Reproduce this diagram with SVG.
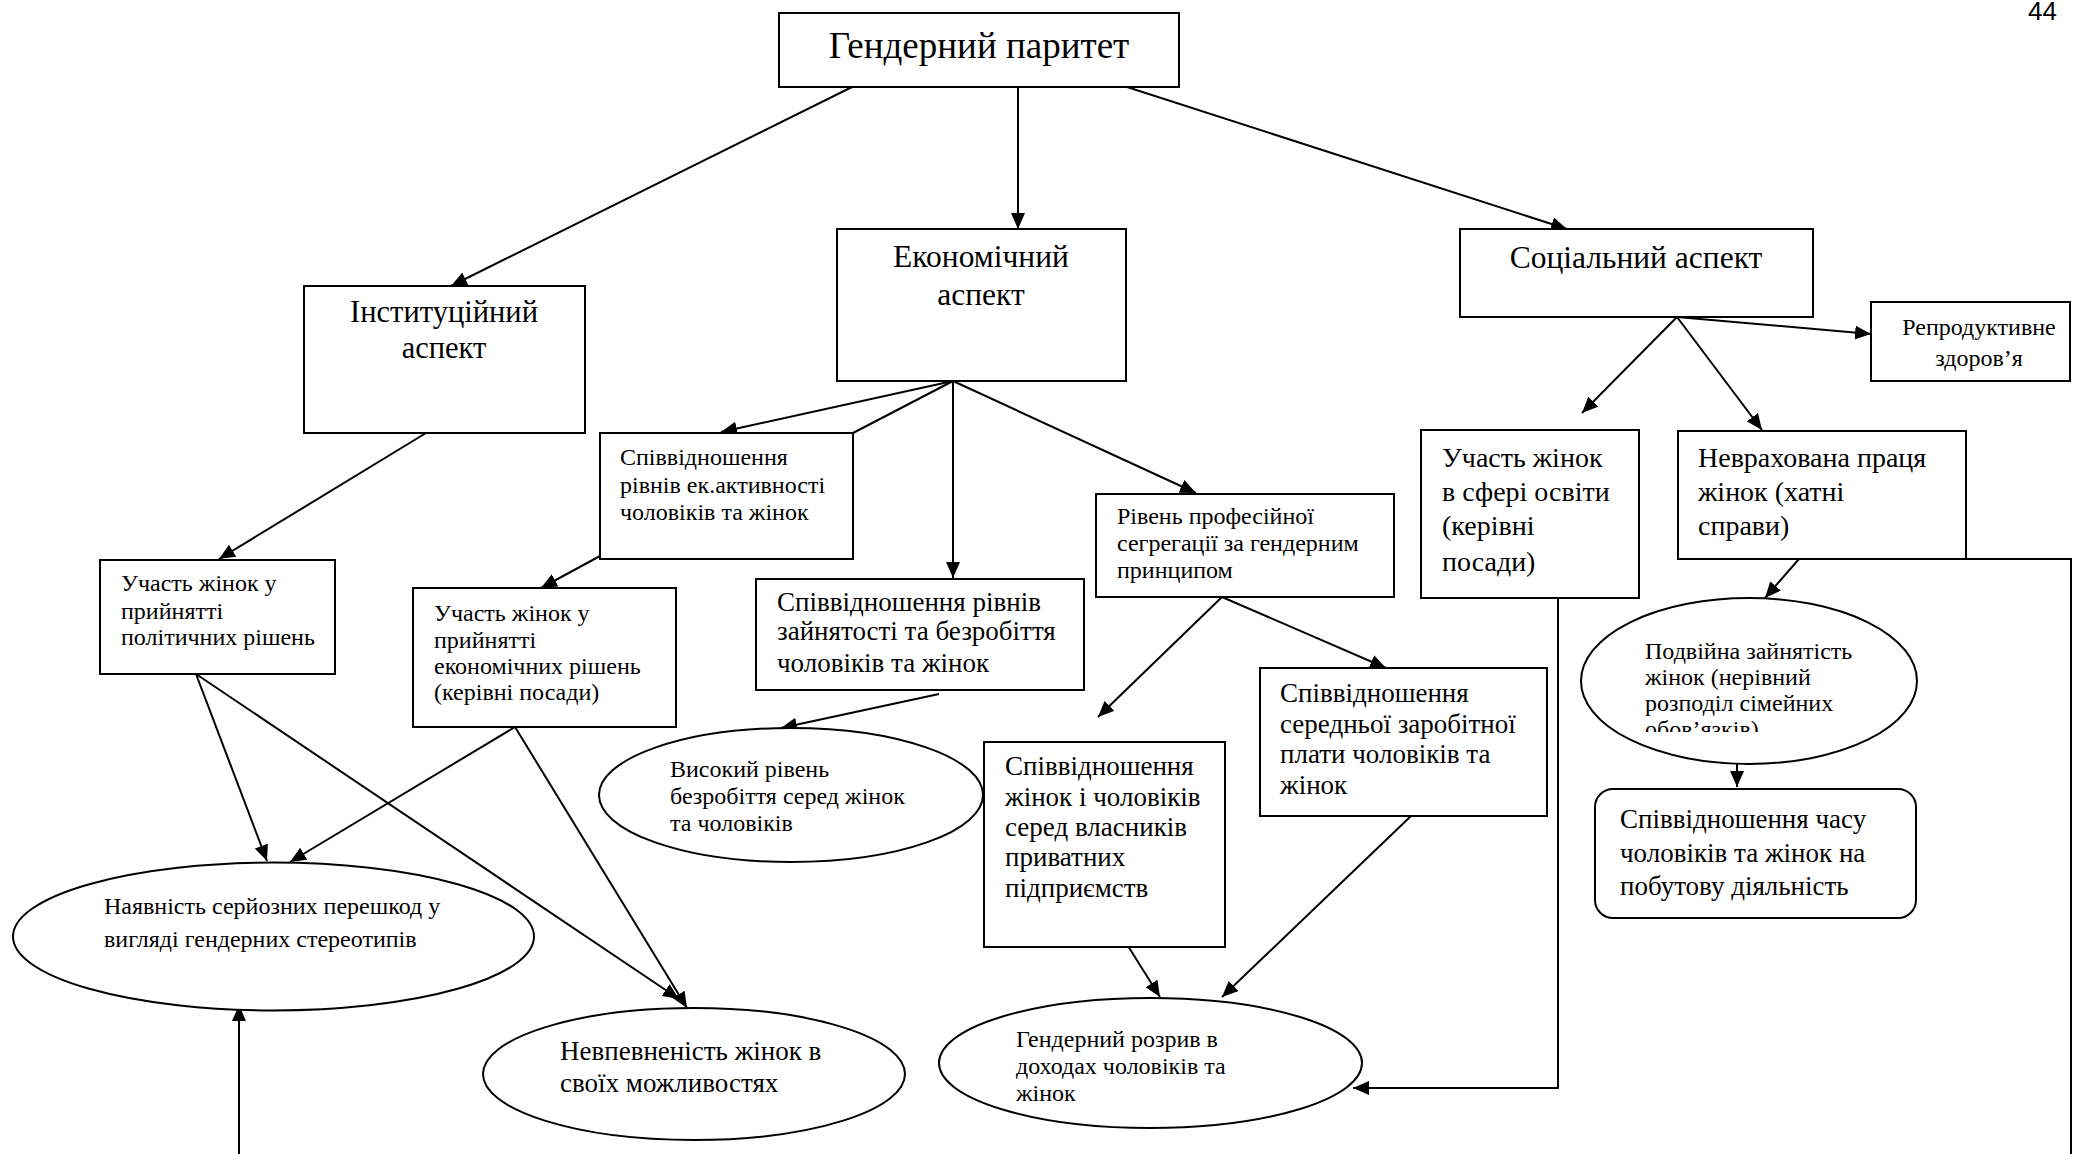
<svg xmlns="http://www.w3.org/2000/svg" width="2073" height="1154" viewBox="0 0 2073 1154">
<defs>
<marker id="arr" markerUnits="userSpaceOnUse" markerWidth="18" markerHeight="14" refX="16" refY="7" orient="auto">
<path d="M0,0 L16,7 L0,14 z" fill="#000"/>
</marker>
<clipPath id="clipDouble"><rect x="1570" y="590" width="360" height="142"/></clipPath>
</defs>
<style>
.b{fill:#fff;stroke:#000;stroke-width:2}
.t{font-family:"Liberation Serif","Times New Roman",serif;fill:#000}
.s24{font-size:24px}
.s27{font-size:27px}
.s28{font-size:28px}
.s31{font-size:31.5px}
.c{text-anchor:middle}
.ln{fill:none;stroke:#000;stroke-width:2}
.a{marker-end:url(#arr)}
</style>
<rect width="2073" height="1154" fill="#fff"/>
<text x="2028" y="20" style="font-family:'Liberation Sans',Arial,sans-serif;font-size:26px">44</text>

<g id="connectors">
<line class="ln a" x1="852" y1="87" x2="451" y2="286"/>
<line class="ln a" x1="1018" y1="87" x2="1018" y2="229"/>
<line class="ln a" x1="1127" y1="87" x2="1567" y2="229"/>
<line class="ln a" x1="426" y1="433" x2="219" y2="559"/>
<line class="ln a" x1="953" y1="381" x2="721" y2="432"/>
<line class="ln" x1="953" y1="381" x2="853" y2="433"/>
<line class="ln a" x1="953" y1="381" x2="953" y2="578"/>
<line class="ln a" x1="953" y1="381" x2="1196" y2="493"/>
<line class="ln a" x1="600" y1="556" x2="541" y2="588"/>
<line class="ln a" x1="939" y1="694" x2="781" y2="728"/>
<line class="ln a" x1="196" y1="674" x2="267" y2="861"/>
<line class="ln a" x1="196" y1="674" x2="679" y2="999"/>
<line class="ln a" x1="515" y1="727" x2="290" y2="862"/>
<line class="ln a" x1="515" y1="727" x2="687" y2="1008"/>
<line class="ln a" x1="239" y1="1154" x2="239" y2="1005"/>
<line class="ln a" x1="1222" y1="597" x2="1098" y2="717"/>
<line class="ln a" x1="1222" y1="597" x2="1386" y2="668"/>
<line class="ln a" x1="1128" y1="946" x2="1160" y2="997"/>
<line class="ln a" x1="1411" y1="816" x2="1222" y2="997"/>
<polyline class="ln a" points="1558,598 1558,1088 1353,1088"/>
<line class="ln a" x1="1677" y1="317" x2="1871" y2="334"/>
<line class="ln a" x1="1677" y1="317" x2="1582" y2="413"/>
<line class="ln a" x1="1677" y1="317" x2="1762" y2="430"/>
<line class="ln a" x1="1799" y1="559" x2="1765" y2="598"/>
<line class="ln a" x1="1737" y1="763" x2="1737" y2="787"/>
<polyline class="ln" points="1966,559 2071,559 2071,1154"/>
</g>

<g id="parity">
<rect class="b" x="779" y="13" width="400" height="74"/>
<text class="t c" x="979" y="58" style="font-size:37px">Гендерний паритет</text>
</g>
<g id="institutional">
<rect class="b" x="304" y="286" width="281" height="147"/>
<text class="t s31 c" x="444" y="322" style="font-size:30.5px">Інституційний</text>
<text class="t s31 c" x="444" y="358" style="font-size:30.5px">аспект</text>
</g>
<g id="economic">
<rect class="b" x="837" y="229" width="289" height="152"/>
<text class="t s31 c" x="981" y="267">Економічний</text>
<text class="t s31 c" x="981" y="305">аспект</text>
</g>
<g id="social">
<rect class="b" x="1460" y="229" width="353" height="88"/>
<text class="t s31 c" x="1636" y="268">Соціальний аспект</text>
</g>
<g id="econ-activity">
<rect class="b" x="600" y="433" width="253" height="126"/>
<text class="t s24" x="620" y="465">Співвідношення</text>
<text class="t s24" x="620" y="493">рівнів ек.активності</text>
<text class="t s24" x="620" y="520">чоловіків та жінок</text>
</g>
<g id="political">
<rect class="b" x="100" y="560" width="235" height="114"/>
<text class="t s24" x="121" y="591">Участь жінок у</text>
<text class="t s24" x="121" y="619">прийнятті</text>
<text class="t s24" x="121" y="645">політичних рішень</text>
</g>
<g id="econ-decisions">
<rect class="b" x="413" y="588" width="263" height="139"/>
<text class="t s24" x="434" y="621">Участь жінок у</text>
<text class="t s24" x="434" y="648">прийнятті</text>
<text class="t s24" x="434" y="674">економічних рішень</text>
<text class="t s24" x="434" y="700">(керівні посади)</text>
</g>
<g id="employment">
<rect class="b" x="756" y="579" width="328" height="111"/>
<text class="t s27" x="777" y="611">Співвідношення рівнів</text>
<text class="t s27" x="777" y="640">зайнятості та безробіття</text>
<text class="t s27" x="777" y="672">чоловіків та жінок</text>
</g>
<g id="segregation">
<rect class="b" x="1096" y="494" width="298" height="103"/>
<text class="t s24" x="1117" y="524">Рівень професійної</text>
<text class="t s24" x="1117" y="551">сегрегації за гендерним</text>
<text class="t s24" x="1117" y="578">принципом</text>
</g>
<g id="owners">
<rect class="b" x="984" y="742" width="241" height="205"/>
<text class="t s27" x="1005" y="775">Співвідношення</text>
<text class="t s27" x="1005" y="806">жінок і чоловіків</text>
<text class="t s27" x="1005" y="836">серед власників</text>
<text class="t s27" x="1005" y="866">приватних</text>
<text class="t s27" x="1005" y="897">підприємств</text>
</g>
<g id="wage">
<rect class="b" x="1260" y="668" width="287" height="148"/>
<text class="t s27" x="1280" y="702">Співвідношення</text>
<text class="t s27" x="1280" y="733">середньої заробітної</text>
<text class="t s27" x="1280" y="763">плати чоловіків та</text>
<text class="t s27" x="1280" y="794">жінок</text>
</g>
<g id="education">
<rect class="b" x="1421" y="430" width="218" height="168"/>
<text class="t s28" x="1442" y="467">Участь жінок</text>
<text class="t s28" x="1442" y="501">в сфері освіти</text>
<text class="t s28" x="1442" y="535">(керівні</text>
<text class="t s28" x="1442" y="571">посади)</text>
</g>
<g id="unpaid">
<rect class="b" x="1678" y="431" width="288" height="128"/>
<text class="t s28" x="1698" y="467">Неврахована праця</text>
<text class="t s28" x="1698" y="501">жінок (хатні</text>
<text class="t s28" x="1698" y="535">справи)</text>
</g>
<g id="reproductive">
<rect class="b" x="1871" y="302" width="199" height="79"/>
<text class="t s24 c" x="1979" y="335">Репродуктивне</text>
<text class="t s24 c" x="1979" y="366">здоров’я</text>
</g>
<g id="high-unemployment">
<ellipse class="b" cx="791" cy="795" rx="192" ry="67"/>
<text class="t s24" x="670" y="777">Високий рівень</text>
<text class="t s24" x="670" y="804">безробіття серед жінок</text>
<text class="t s24" x="670" y="831">та чоловіків</text>
</g>
<g id="stereotypes">
<ellipse class="b" cx="273.5" cy="936.5" rx="260.5" ry="74"/>
<text class="t s24" x="104" y="914">Наявність серйозних перешкод у</text>
<text class="t s24" x="104" y="947">вигляді гендерних стереотипів</text>
</g>
<g id="uncertainty">
<ellipse class="b" cx="694" cy="1074" rx="211" ry="66"/>
<text class="t s27" x="560" y="1060">Невпевненість жінок в</text>
<text class="t s27" x="560" y="1092">своїх можливостях</text>
</g>
<g id="income-gap">
<ellipse class="b" cx="1150.5" cy="1063" rx="211.5" ry="65"/>
<text class="t s24" x="1016" y="1047">Гендерний розрив в</text>
<text class="t s24" x="1016" y="1074">доходах чоловіків та</text>
<text class="t s24" x="1016" y="1101">жінок</text>
</g>
<g id="double-employment">
<ellipse class="b" cx="1749" cy="681" rx="168" ry="83"/>
<g clip-path="url(#clipDouble)">
<text class="t s24" x="1645" y="659">Подвійна зайнятість</text>
<text class="t s24" x="1645" y="685">жінок (нерівний</text>
<text class="t s24" x="1645" y="711">розподіл сімейних</text>
<text class="t s24" x="1645" y="737">обов’язків)</text>
</g>
</g>
<g id="time-ratio">
<rect class="b" x="1595" y="789" width="321" height="129" rx="18" ry="18"/>
<text class="t s27" x="1620" y="828">Співвідношення часу</text>
<text class="t s27" x="1620" y="862">чоловіків та жінок на</text>
<text class="t s27" x="1620" y="895">побутову діяльність</text>
</g>
</svg>
